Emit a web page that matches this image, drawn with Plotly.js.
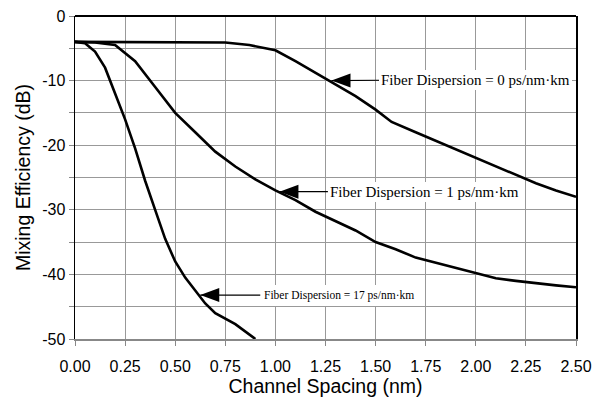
<!DOCTYPE html>
<html>
<head>
<meta charset="utf-8">
<script src="https://cdn.plot.ly/plotly-3.0.1.min.js"></script>
<style>html,body{margin:0;padding:0;background:#fff;}#chart{width:600px;height:401px;}</style>
</head>
<body>
<div id="chart"></div>
<script>
// Fiber Dispersion = 0 ps/nm·km
const x0 = [0, 0.25, 0.5, 0.75, 0.87, 1.0, 1.1, 1.2, 1.3, 1.4, 1.5, 1.58, 1.7, 1.8, 1.9, 2.0, 2.1, 2.2, 2.3, 2.4, 2.5];
const y0 = [-4, -4, -4, -4.1, -4.5, -5.3, -7, -8.8, -10.6, -12.4, -14.5, -16.4, -18, -19.3, -20.6, -22, -23.3, -24.6, -25.9, -27, -28];
// Fiber Dispersion = 1 ps/nm·km
const x1 = [0, 0.1, 0.2, 0.3, 0.4, 0.5, 0.6, 0.7, 0.8, 0.9, 1.0, 1.1, 1.2, 1.3, 1.4, 1.5, 1.6, 1.7, 1.8, 1.9, 2.0, 2.1, 2.2, 2.3, 2.4, 2.5];
const y1 = [-4, -4.1, -4.5, -7, -11, -15, -18, -21, -23.3, -25.3, -27, -28.5, -30.3, -31.8, -33.2, -35, -36.1, -37.4, -38.2, -39, -39.8, -40.6, -41, -41.4, -41.7, -42];
// Fiber Dispersion = 17 ps/nm·km
const x17 = [0, 0.05, 0.1, 0.15, 0.2, 0.25, 0.3, 0.35, 0.4, 0.45, 0.5, 0.55, 0.6, 0.65, 0.7, 0.8, 0.9];
const y17 = [-4, -4.2, -5.5, -8, -12, -16, -20.5, -25.5, -30, -34.5, -38, -40.5, -42.5, -44.5, -46, -47.7, -50];

const xTickVals = [0, 0.25, 0.5, 0.75, 1.0, 1.25, 1.5, 1.75, 2.0, 2.25, 2.5];
const xTickText = ['0.00', '0.25', '0.50', '0.75', '1.00', '1.25', '1.50', '1.75', '2.00', '2.25', '2.50'];
const yTickVals = [0, -5, -10, -15, -20, -25, -30, -35, -40, -45, -50];
const yTickText = ['0', '', '-10', '', '-20', '', '-30', '', '-40', '', '-50'];

const labels = ['Fiber Dispersion = 0 ps/nm·km', 'Fiber Dispersion = 1 ps/nm·km', 'Fiber Dispersion = 17 ps/nm·km'];
// arrow tip locations (on the curves)
const tipX = [1.28, 1.02, 0.625];
const tipY = [-10, -27.2, -43.2];

const lineStyle = {color: '#000', width: 2.6};
const traces = [
  {x: x0, y: y0, mode: 'lines', line: lineStyle, name: labels[0], hoverinfo: 'skip'},
  {x: x1, y: y1, mode: 'lines', line: lineStyle, name: labels[1], hoverinfo: 'skip'},
  {x: x17, y: y17, mode: 'lines', line: lineStyle, name: labels[2], hoverinfo: 'skip'}
];

const serif = 'Liberation Serif, Times New Roman, serif';
const annOffsets = [{ax: 144, ay: -1, size: 15, pad: 2}, {ax: 145, ay: 0, size: 15, pad: 2}, {ax: 139, ay: 0, size: 11.5, pad: 4}];
const annotations = labels.map((t, i) => ({
  x: tipX[i], y: tipY[i], xref: 'x', yref: 'y',
  text: t, showarrow: true, arrowhead: 0, arrowwidth: 1.2, arrowcolor: '#000',
  ax: annOffsets[i].ax, ay: annOffsets[i].ay,
  font: {family: serif, size: annOffsets[i].size, color: '#000'},
  bgcolor: '#fff', borderpad: annOffsets[i].pad, borderwidth: 0,
  standoff: 0
}));
const shapes = tipX.map((tx, i) => ({
  type: 'path', xref: 'x', yref: 'y', xsizemode: 'pixel', ysizemode: 'pixel',
  xanchor: tx, yanchor: tipY[i],
  path: 'M0,0 L19,7 L19,-7 Z',
  fillcolor: '#000', line: {color: '#000', width: 0}, layer: 'above'
}));

const layout = {
  width: 600, height: 401,
  margin: {l: 75, r: 24, t: 16, b: 62},
  paper_bgcolor: '#fff', plot_bgcolor: '#fff',
  showlegend: false,
  font: {family: 'Liberation Sans, Arial, sans-serif', color: '#000'},
  xaxis: {
    range: [0, 2.5], tickvals: xTickVals, ticktext: xTickText,
    ticks: 'outside', ticklen: 5, tickcolor: '#888', tickwidth: 1,
    ticklabelstandoff: 7,
    showgrid: true, gridcolor: '#999', gridwidth: 1,
    showline: true, linecolor: '#888', linewidth: 2, mirror: false,
    zeroline: false,
    tickfont: {size: 16, color: '#000'},
    title: {text: 'Channel Spacing (nm)', font: {size: 19.5, color: '#000'}, standoff: 4}
  },
  yaxis: {
    range: [-50, 0], tickvals: yTickVals, ticktext: yTickText,
    ticks: 'outside', ticklen: 5, tickcolor: '#888', tickwidth: 1,
    showgrid: true, gridcolor: '#999', gridwidth: 1,
    showline: true, linecolor: '#000', linewidth: 1.5, mirror: true,
    zeroline: true, zerolinecolor: '#000', zerolinewidth: 2,
    tickfont: {size: 16, color: '#000'},
    title: {text: 'Mixing Efficiency (dB)', font: {size: 19.5, color: '#000'}, standoff: 6}
  },
  annotations: annotations,
  shapes: shapes
};

Plotly.newPlot('chart', traces, layout, {displayModeBar: false, staticPlot: true});
</script>
</body>
</html>
